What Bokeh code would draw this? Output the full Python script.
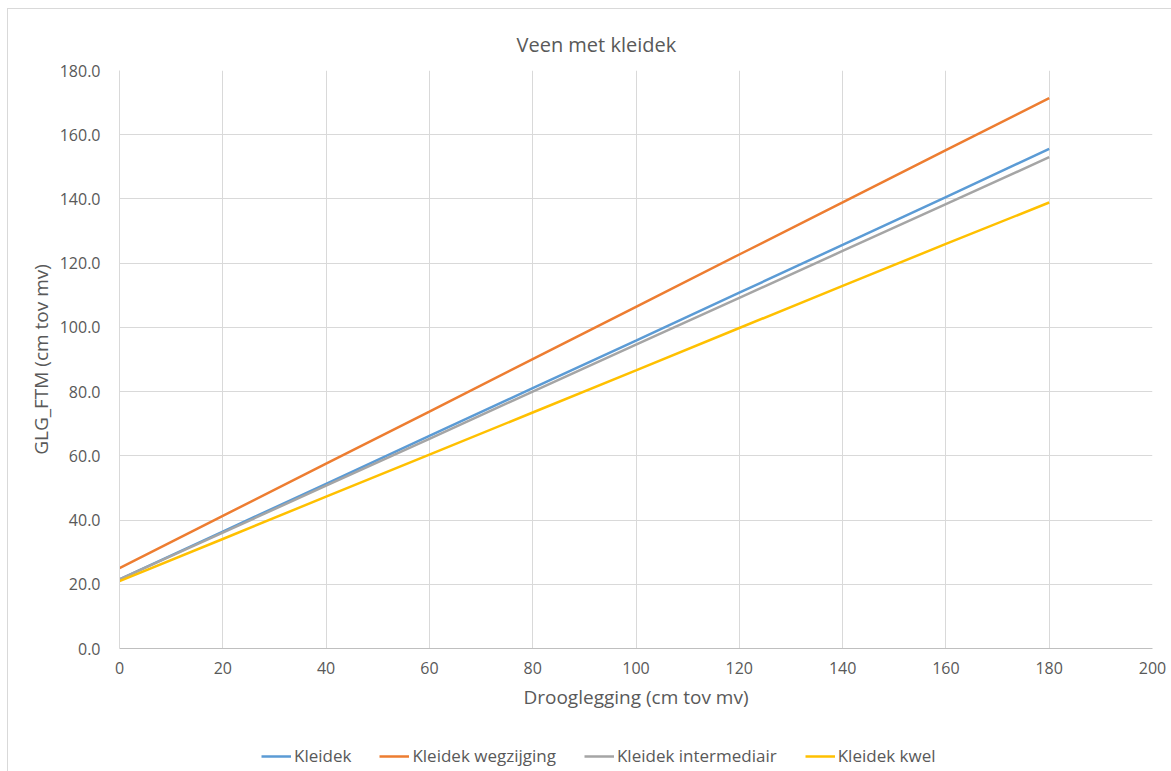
from bokeh.plotting import figure
from bokeh.layouts import column
from bokeh.models import Range1d, FixedTicker, NumeralTickFormatter, Legend, LegendItem
from bokeh.embed import file_html
from bokeh.resources import INLINE

x_vals = [0, 20, 40, 60, 80, 100, 120, 140, 160, 180]
kleidek = [21.5, 36.4, 51.3, 66.2, 81.1, 95.9, 110.8, 125.7, 140.6, 155.6]
wegzijging = [25.0, 41.3, 57.6, 73.8, 90.1, 106.4, 122.7, 138.9, 155.2, 171.4]
intermediair = [21.5, 36.1, 50.7, 65.3, 80.0, 94.6, 109.2, 123.8, 138.4, 153.0]
kwel = [21.0, 34.1, 47.3, 60.4, 73.5, 86.6, 99.8, 112.9, 126.0, 138.9]

series_names = ["Kleidek", "Kleidek wegzijging", "Kleidek intermediair", "Kleidek kwel"]
series_values = [kleidek, wegzijging, intermediair, kwel]
colors = ["#5b9bd5", "#ed7d31", "#a5a5a5", "#ffc000"]

x_ticks = [0, 20, 40, 60, 80, 100, 120, 140, 160, 180, 200]
y_ticks = [0, 20, 40, 60, 80, 100, 120, 140, 160, 180]

FONT = "Open Sans"
TXT = "#595959"

W, H1, H2 = 1163, 716, 54
p = figure(width=W, height=H1, output_backend="svg", toolbar_location=None,
           x_range=Range1d(0, 200), y_range=Range1d(0, 180),
           title="Veen met kleidek",
           min_border_left=111, min_border_right=19, min_border_top=61,
           min_border_bottom=77)

p.title.align = "left"
p.title.offset = 397
p.title.text_font = FONT
p.title.text_font_size = "20px"
p.title.text_font_style = "normal"
p.title.text_color = TXT
p.title.standoff = 26

p.outline_line_color = None

for name, vals, c in zip(series_names, series_values, colors):
    p.line(x_vals, vals, line_color=c, line_width=2.5)

p.xaxis.ticker = FixedTicker(ticks=x_ticks)
p.yaxis.ticker = FixedTicker(ticks=y_ticks)
p.yaxis.formatter = NumeralTickFormatter(format="0.0")
p.xaxis.axis_label = "Drooglegging (cm tov mv)"
p.yaxis.axis_label = "GLG_FTM (cm tov mv)"
for ax in (p.xaxis, p.yaxis):
    ax.major_tick_line_color = None
    ax.minor_tick_line_color = None
    ax.major_tick_out = 0
    ax.major_tick_in = 0
    ax.major_label_text_font = FONT
    ax.major_label_text_font_size = "16px"
    ax.major_label_text_color = TXT
    ax.axis_label_text_font = FONT
    ax.axis_label_text_font_size = "19px"
    ax.axis_label_text_font_style = "normal"
    ax.axis_label_text_color = TXT
p.xaxis.axis_line_color = "#bfbfbf"
p.yaxis.axis_line_color = "#d9d9d9"
p.xaxis.major_label_standoff = 13
p.xaxis.axis_label_standoff = 7
p.yaxis.major_label_standoff = 19
p.yaxis.axis_label_standoff = 3

p.xgrid.grid_line_color = "#d9d9d9"
p.ygrid.grid_line_color = "#d9d9d9"

# legend strip below the chart (series drawn outside its visible range; only the legend shows)
lg = figure(width=W, height=H2, output_backend="svg", toolbar_location=None,
            x_range=Range1d(0, 1), y_range=Range1d(-2, -1),
            x_axis_type=None, y_axis_type=None,
            min_border_left=0, min_border_right=0, min_border_top=0, min_border_bottom=0)
lg.outline_line_color = None
lg.xgrid.visible = False
lg.ygrid.visible = False
items = []
for name, vals, c in zip(series_names, series_values, colors):
    r = lg.line(x_vals, vals, line_color=c, line_width=2.5)
    items.append(LegendItem(label=name, renderers=[r]))
legend = Legend(items=items, orientation="horizontal", location=(142, 12),
                label_text_font=FONT, label_text_font_size="17px", label_text_color=TXT,
                glyph_width=30, label_standoff=3, spacing=28,
                border_line_color=None, background_fill_alpha=0, margin=0, padding=4)
lg.add_layout(legend, "center")

page = column(p, lg, spacing=0,
              styles={"margin-left": "7px", "margin-top": "8px",
                      "border-top": "1px solid #d9d9d9", "border-left": "1px solid #d9d9d9"})

open("out.html", "w").write(file_html(page, INLINE))
